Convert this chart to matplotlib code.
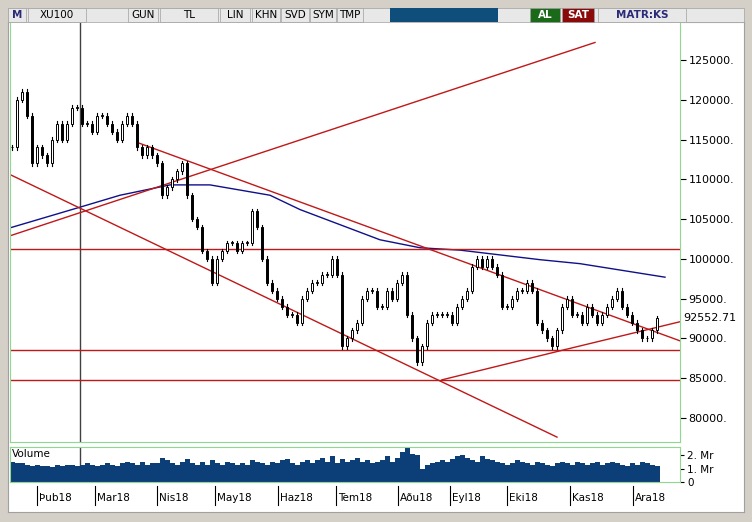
import matplotlib
matplotlib.use("Agg")
import matplotlib.pyplot as plt
from matplotlib.patches import Rectangle

closes = [114000,120000,121000,118000,112000,114000,113000,112000,115000,117000,
          115000,117000,119000,119000,117000,117000,116000,118000,118000,117000,
          116000,115000,117000,118000,117000,114000,113000,114000,113000,112000,
          108000,109000,110000,111000,112000,108000,105000,104000,101000,100000,
          97000,100000,101000,102000,102000,101000,102000,102000,106000,104000,
          100000,97000,96000,95000,94000,93000,93000,92000,95000,96000,
          97000,97000,98000,98000,100000,98000,89000,90000,91000,92000,
          95000,96000,96000,94000,94000,96000,95000,97000,98000,93000,
          90000,87000,89000,92000,93000,93000,93000,93000,92000,94000,
          95000,96000,99000,100000,99000,100000,99000,98000,94000,94000,
          95000,96000,96000,97000,96000,92000,91000,90000,89000,91000,
          94000,95000,93000,93000,92000,94000,93000,92000,93000,94000,
          95000,96000,94000,93000,92000,91000,90000,90000,91000,92553]
volumes = [1.5,1.4,1.4,1.3,1.2,1.3,1.2,1.2,1.1,1.3,1.2,1.3,1.3,1.2,1.3,1.4,1.3,1.2,1.3,1.4,
           1.3,1.2,1.4,1.5,1.4,1.3,1.5,1.3,1.4,1.4,1.8,1.6,1.4,1.3,1.5,1.7,1.4,1.3,1.5,1.3,
           1.6,1.4,1.3,1.5,1.4,1.3,1.4,1.3,1.6,1.5,1.4,1.3,1.5,1.4,1.6,1.7,1.4,1.3,1.5,1.6,
           1.4,1.6,1.8,1.5,1.9,1.4,1.7,1.5,1.6,1.8,1.5,1.6,1.4,1.5,1.6,1.9,1.5,1.8,2.2,2.6,
           2.1,2.0,1.0,1.3,1.4,1.5,1.6,1.5,1.7,1.9,2.0,1.8,1.6,1.5,1.9,1.7,1.6,1.5,1.4,1.3,
           1.4,1.6,1.5,1.4,1.3,1.5,1.4,1.3,1.2,1.4,1.5,1.4,1.3,1.5,1.4,1.3,1.4,1.5,1.3,1.4,
           1.5,1.4,1.3,1.2,1.4,1.3,1.5,1.4,1.3,1.2]
ma_idx = [-0.4,13.6,21.6,31.6,39.6,51.6,57.6,65.6,73.6,81.6,89.6,97.6,105.6,113.6,130.6]
ma_val = [103900,106500,108000,109300,109300,108000,106200,104300,102400,101400,101100,100500,99900,99400,97700]
trend_lines = [((-0.4,102900),(116.6,127200)),
               ((25.2,114600),(133.6,89700)),
               ((-0.4,110600),(109,77600)),
               ((86,84800),(110.6,88600)),
               ((110.6,88600),(133.6,92100))]
hlines = [101300, 88600, 84800]
yticks = [125000,120000,115000,110000,105000,100000,95000,90000,85000,80000]
month_labels = ["Þub18","Mar18","Nis18","May18","Haz18","Tem18","Aðu18","Eyl18","Eki18","Kas18","Ara18"]
month_idx = [5.0,16.6,29.0,40.6,53.2,64.8,77.2,87.6,99.0,111.6,124.2]
last_price = 92552.71

W, H = 752, 522
fig = plt.figure(figsize=(W/100, H/100), dpi=100, facecolor="#d4d0c8")
def fx(p): return p/W
def fy(p): return 1-p/H

bg = fig.add_axes([fx(8), fy(512), fx(736), 490/H], zorder=-10)
bg.set_xticks([]); bg.set_yticks([])
for s in bg.spines.values(): s.set_color("#a0a0a0")

# toolbar
fig.patches.append(Rectangle((fx(8),fy(22)),fx(736),14/H,transform=fig.transFigure,fc="#e8e8e8",ec="#a0a0a0",lw=0.5))
fig.patches.append(Rectangle((fx(390),fy(22)),fx(108),14/H,transform=fig.transFigure,fc="#0f4e7a",ec="none"))
for x,w,t,fc,tc in [(8,18,"M","#e8e8e8","#2a2a7a"),(28,58,"XU100","#e8e8e8","black"),(128,30,"GUN","#e8e8e8","black"),
                    (160,58,"TL","#e8e8e8","black"),(220,30,"LIN","#e8e8e8","black"),(252,28,"KHN","#e8e8e8","black"),
                    (281,28,"SVD","#e8e8e8","black"),(310,26,"SYM","#e8e8e8","black"),(337,26,"TMP","#e8e8e8","black"),
                    (530,30,"AL","#1a6a1a","white"),(562,32,"SAT","#8a0a0a","white"),(598,88,"MATR:KS","#e8e8e8","#2a2a7a")]:
    fig.patches.append(Rectangle((fx(x),fy(22)),fx(w),14/H,transform=fig.transFigure,fc=fc,ec="#a0a0a0",lw=0.5))
    fig.text(fx(x+w/2),fy(15),t,ha="center",va="center",fontsize=7.5,color=tc,weight="bold" if t in("M","AL","SAT","MATR:KS") else "normal")

ax = fig.add_axes([fx(10), fy(442), fx(670), 422/H])
vax = fig.add_axes([fx(10), fy(482), fx(670), 35/H])
for a in (ax, vax):
    for s in a.spines.values(): s.set_color("#90d890")
    a.set_xlim(-0.4, 133.6)
    a.set_xticks([])
ax.set_ylim(76985, 130025)

n = len(closes)
opens = [closes[0]] + closes[:-1]
for i,(o,c) in enumerate(zip(opens, closes)):
    hi, lo = max(o,c)+300, min(o,c)-300
    ax.plot([i,i],[lo,hi],color="black",lw=0.8,zorder=3)
    if c >= o:
        ax.add_patch(Rectangle((i-0.25,o),0.5,max(c-o,80),fc="white",ec="black",lw=0.7,zorder=4))
    else:
        ax.add_patch(Rectangle((i-0.25,c),0.5,o-c,fc="black",ec="black",lw=0.7,zorder=4))

ax.plot(ma_idx, ma_val, color="#10108a", lw=1, zorder=2)
for (a0,b0),(a1,b1) in trend_lines:
    ax.plot([a0,a1],[b0,b1],color="#c01818",lw=1,zorder=2)
for h in hlines:
    ax.axhline(h,color="#c01818",lw=1,zorder=2)
ax.axvline(13.6,color="#404040",lw=1,zorder=1)
vax.axvline(13.6,color="#404040",lw=1,zorder=1)

ax.yaxis.tick_right()
ax.set_yticks(yticks)
ax.set_yticklabels([f"{v}." for v in yticks], fontsize=8)
ax.tick_params(axis="y", length=4, pad=2)
ax.text(1.005, (last_price-76985)/(130025-76985), f"{last_price:.2f}", transform=ax.transAxes,
        fontsize=8, va="center", ha="left", bbox=dict(fc="white", ec="none", pad=1), clip_on=False)

vax.bar(range(n), volumes, width=1.0, color="#0c3f78")
vax.set_ylim(0, 2.6)
vax.yaxis.tick_right()
vax.set_yticks([0,1,2])
vax.set_yticklabels(["0","1. Mr","2. Mr"], fontsize=7.5)
vax.tick_params(axis="y", length=3, pad=2)
vax.text(0.003, 0.95, "Volume", transform=vax.transAxes, fontsize=7.5, va="top")

for lab, mi in zip(month_labels, month_idx):
    xp = 10 + (mi+0.4)/134*670
    fig.lines.append(plt.Line2D([fx(xp),fx(xp)],[fy(486),fy(505)],transform=fig.transFigure,color="black",lw=0.8))
    fig.text(fx(xp+2), fy(498), lab, fontsize=7.5, va="center", ha="left")

fig.savefig("out.png", dpi=100, facecolor=fig.get_facecolor())
